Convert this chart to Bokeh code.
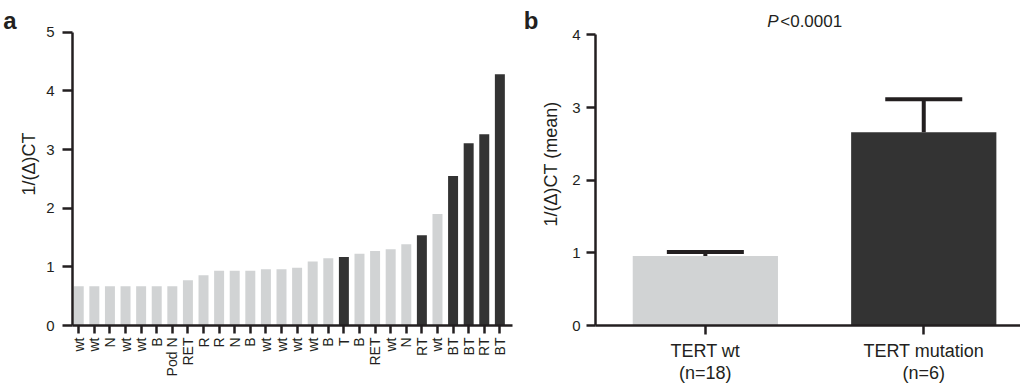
import math
from bokeh.plotting import figure
from bokeh.layouts import row
from bokeh.models import (Range1d, FixedTicker, Label, Whisker, ColumnDataSource,
                          TeeHead, LinearAxis)
from bokeh.embed import file_html
from bokeh.resources import INLINE

# ---- data, panel a ----
labels_a = ["wt", "wt", "N", "wt", "wt", "B", "Pod N", "RET", "R", "R", "N", "B",
            "wt", "wt", "wt", "wt", "B", "T", "B", "RET", "wt", "N", "RT", "wt",
            "BT", "BT", "RT", "BT"]
values_a = [0.67, 0.67, 0.67, 0.67, 0.67, 0.67, 0.67, 0.77, 0.855, 0.935, 0.935, 0.935,
            0.957, 0.957, 0.986, 1.09, 1.145, 1.168, 1.225, 1.27, 1.30, 1.385, 1.54, 1.90,
            2.55, 3.106, 3.26, 4.285]
mutant_a = [0, 0, 0, 0, 0, 0, 0, 0, 0, 0, 0, 0,
            0, 0, 0, 0, 0, 1, 0, 0, 0, 0, 1, 0,
            1, 1, 1, 1]
yticks_a = [0, 1, 2, 3, 4, 5]

# ---- data, panel b ----
groups_b = ["TERT wt\n(n=18)", "TERT mutation\n(n=6)"]
means_b = [0.955, 2.66]
sem_b = [0.055, 0.455]
yticks_b = [0, 1, 2, 3, 4]
p_label = "P"
p_text = "<0.0001"

LIGHT = "#d1d3d4"
DARK = "#333333"
INK = "#231f20"
FONT = "Liberation Sans"


def style_axes(p, tick_label_size):
    for ax in (p.xaxis[0], p.yaxis[0]):
        ax.axis_line_width = 2.5
        ax.axis_line_color = INK
        ax.major_tick_line_width = 2.5
        ax.major_tick_line_color = INK
        ax.minor_tick_line_color = None
        ax.major_tick_in = 0
        ax.major_label_text_font = FONT
        ax.major_label_text_color = INK
        ax.axis_label_text_font = FONT
        ax.axis_label_text_font_style = "normal"
        ax.axis_label_text_color = INK
    p.yaxis[0].major_label_text_font_size = "15px"
    p.xaxis[0].major_label_text_font_size = tick_label_size
    p.xgrid.grid_line_color = None
    p.ygrid.grid_line_color = None
    p.outline_line_color = None


def panel_letter(p, letter, at):
    """Panel letter drawn as the single tick label of a bare extra left axis."""
    ax = LinearAxis(ticker=FixedTicker(ticks=[at]),
                    major_label_overrides={at: letter},
                    axis_line_color=None, major_tick_line_color=None,
                    minor_tick_line_color=None, major_tick_in=0, major_tick_out=0,
                    major_label_standoff=0, major_label_text_font=FONT,
                    major_label_text_font_size="24px",
                    major_label_text_font_style="bold",
                    major_label_text_color=INK)
    p.add_layout(ax, "left")


# ================= panel a =================
xs_a = list(range(len(values_a)))
colors_a = [DARK if m else LIGHT for m in mutant_a]
src_a = ColumnDataSource(dict(x=xs_a, top=values_a, color=colors_a))

pa = figure(width=520, height=385, output_backend="svg", toolbar_location=None,
            x_range=Range1d(-0.40, 27.81), y_range=Range1d(0, 5.506),
            min_border_left=71, min_border_right=8, min_border_top=2,
            min_border_bottom=60)
pa.vbar(x="x", top="top", width=0.64, fill_color="color", line_color=None, source=src_a)
style_axes(pa, "14px")
pa.xaxis[0].ticker = FixedTicker(ticks=xs_a)
pa.xaxis[0].major_label_overrides = {i: lab for i, lab in zip(xs_a, labels_a)}
pa.xaxis[0].major_label_orientation = math.pi / 2
pa.xaxis[0].major_tick_out = 8
pa.xaxis[0].major_label_standoff = 4
pa.yaxis[0].ticker = FixedTicker(ticks=yticks_a)
pa.yaxis[0].bounds = (yticks_a[0], yticks_a[-1])
pa.yaxis[0].major_tick_out = 10
pa.yaxis[0].major_label_standoff = 8
pa.yaxis[0].axis_label = "1/(\u0394)CT"
pa.yaxis[0].axis_label_text_font_size = "18px"
pa.yaxis[0].axis_label_standoff = 4
panel_letter(pa, "a", 5.2)

# ================= panel b =================
xs_b = list(range(len(means_b)))
upper_b = [m + s for m, s in zip(means_b, sem_b)]
src_b = ColumnDataSource(dict(x=xs_b, top=means_b, upper=upper_b,
                              color=[LIGHT, DARK]))

pb = figure(width=500, height=385, output_backend="svg", toolbar_location=None,
            x_range=Range1d(-0.503, 1.443), y_range=Range1d(0, 4.446),
            min_border_left=73, min_border_right=0, min_border_top=2,
            min_border_bottom=60)
pb.vbar(x="x", top="top", width=0.665, fill_color="color", line_color=None, source=src_b)
pb.add_layout(Whisker(source=src_b, base="x", upper="upper", lower="top",
                      line_width=4, line_color=INK, level="overlay",
                      upper_head=TeeHead(size=77, line_width=4, line_color=INK),
                      lower_head=None))
style_axes(pb, "18px")
pb.xaxis[0].ticker = FixedTicker(ticks=xs_b)
pb.xaxis[0].major_label_overrides = {i: g for i, g in zip(xs_b, groups_b)}
pb.xaxis[0].major_tick_out = 9
pb.xaxis[0].major_label_standoff = 6
pb.xaxis[0].major_label_text_line_height = 1.1
pb.yaxis[0].ticker = FixedTicker(ticks=yticks_b)
pb.yaxis[0].bounds = (yticks_b[0], yticks_b[-1])
pb.yaxis[0].major_tick_out = 9
pb.yaxis[0].major_label_standoff = 6
pb.yaxis[0].axis_label = "1/(\u0394)CT (mean)"
pb.yaxis[0].axis_label_text_font_size = "18px"
pb.yaxis[0].axis_label_standoff = 8
panel_letter(pb, "b", 4.2)
pb.add_layout(Label(x=0.283, y=4.183, text=p_label, text_font=FONT, text_font_size="17px",
                    text_font_style="italic", text_color=INK, text_baseline="middle"))
pb.add_layout(Label(x=0.343, y=4.183, text=p_text, text_font=FONT, text_font_size="17px",
                    text_color=INK, text_baseline="middle"))

layout = row(pa, pb, spacing=0)
open("out.html", "w").write(file_html(layout, INLINE))
